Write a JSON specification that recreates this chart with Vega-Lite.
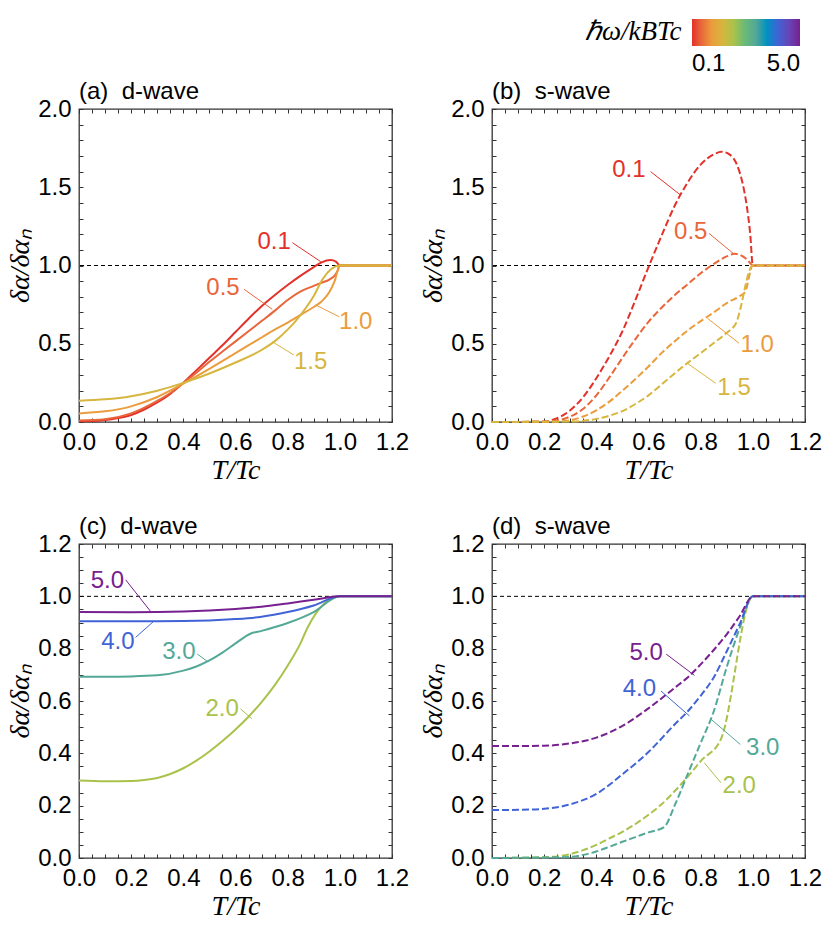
{
  "$schema": "https://vega.github.io/schema/vega-lite/v6.json",
  "padding": {"left": 5, "top": 19, "right": 5, "bottom": 5},
  "datasets": {
    "curves": [
      {"p":"a","w":0.1,"x":0,"y":0.005},{"p":"a","w":0.1,"x":0.05,"y":0.006},{"p":"a","w":0.1,"x":0.1,"y":0.012},{"p":"a","w":0.1,"x":0.15,"y":0.025},{"p":"a","w":0.1,"x":0.2,"y":0.045},{"p":"a","w":0.1,"x":0.25,"y":0.08},{"p":"a","w":0.1,"x":0.3,"y":0.125},{"p":"a","w":0.1,"x":0.35,"y":0.18},{"p":"a","w":0.1,"x":0.4,"y":0.25},{"p":"a","w":0.1,"x":0.45,"y":0.33},{"p":"a","w":0.1,"x":0.5,"y":0.41},{"p":"a","w":0.1,"x":0.55,"y":0.49},{"p":"a","w":0.1,"x":0.6,"y":0.575},{"p":"a","w":0.1,"x":0.65,"y":0.66},{"p":"a","w":0.1,"x":0.7,"y":0.74},{"p":"a","w":0.1,"x":0.75,"y":0.81},{"p":"a","w":0.1,"x":0.8,"y":0.875},{"p":"a","w":0.1,"x":0.85,"y":0.935},{"p":"a","w":0.1,"x":0.9,"y":0.99},{"p":"a","w":0.1,"x":0.93,"y":1.02},{"p":"a","w":0.1,"x":0.965,"y":1.035},{"p":"a","w":0.1,"x":0.985,"y":1.025},{"p":"a","w":0.1,"x":1.0,"y":1.0},{"p":"a","w":0.1,"x":1.2,"y":1.0},
      {"p":"a","w":0.5,"x":0,"y":0.01},{"p":"a","w":0.5,"x":0.1,"y":0.018},{"p":"a","w":0.5,"x":0.2,"y":0.055},{"p":"a","w":0.5,"x":0.3,"y":0.135},{"p":"a","w":0.5,"x":0.35,"y":0.185},{"p":"a","w":0.5,"x":0.4,"y":0.25},{"p":"a","w":0.5,"x":0.45,"y":0.315},{"p":"a","w":0.5,"x":0.5,"y":0.385},{"p":"a","w":0.5,"x":0.55,"y":0.45},{"p":"a","w":0.5,"x":0.6,"y":0.515},{"p":"a","w":0.5,"x":0.65,"y":0.58},{"p":"a","w":0.5,"x":0.7,"y":0.645},{"p":"a","w":0.5,"x":0.75,"y":0.71},{"p":"a","w":0.5,"x":0.8,"y":0.78},{"p":"a","w":0.5,"x":0.85,"y":0.835},{"p":"a","w":0.5,"x":0.9,"y":0.87},{"p":"a","w":0.5,"x":0.93,"y":0.89},{"p":"a","w":0.5,"x":0.96,"y":0.91},{"p":"a","w":0.5,"x":0.98,"y":0.935},{"p":"a","w":0.5,"x":0.99,"y":0.96},{"p":"a","w":0.5,"x":1.0,"y":1.0},{"p":"a","w":0.5,"x":1.2,"y":1.0},
      {"p":"a","w":1.0,"x":0,"y":0.055},{"p":"a","w":1.0,"x":0.1,"y":0.068},{"p":"a","w":1.0,"x":0.2,"y":0.1},{"p":"a","w":1.0,"x":0.3,"y":0.16},{"p":"a","w":1.0,"x":0.4,"y":0.245},{"p":"a","w":1.0,"x":0.5,"y":0.34},{"p":"a","w":1.0,"x":0.6,"y":0.44},{"p":"a","w":1.0,"x":0.7,"y":0.54},{"p":"a","w":1.0,"x":0.75,"y":0.59},{"p":"a","w":1.0,"x":0.8,"y":0.635},{"p":"a","w":1.0,"x":0.85,"y":0.685},{"p":"a","w":1.0,"x":0.9,"y":0.735},{"p":"a","w":1.0,"x":0.93,"y":0.77},{"p":"a","w":1.0,"x":0.96,"y":0.83},{"p":"a","w":1.0,"x":0.98,"y":0.9},{"p":"a","w":1.0,"x":1.0,"y":1.0},{"p":"a","w":1.0,"x":1.2,"y":1.0},
      {"p":"a","w":1.5,"x":0,"y":0.136},{"p":"a","w":1.5,"x":0.1,"y":0.145},{"p":"a","w":1.5,"x":0.2,"y":0.165},{"p":"a","w":1.5,"x":0.3,"y":0.2},{"p":"a","w":1.5,"x":0.4,"y":0.25},{"p":"a","w":1.5,"x":0.5,"y":0.31},{"p":"a","w":1.5,"x":0.6,"y":0.38},{"p":"a","w":1.5,"x":0.7,"y":0.46},{"p":"a","w":1.5,"x":0.75,"y":0.515},{"p":"a","w":1.5,"x":0.8,"y":0.59},{"p":"a","w":1.5,"x":0.85,"y":0.685},{"p":"a","w":1.5,"x":0.9,"y":0.805},{"p":"a","w":1.5,"x":0.935,"y":0.915},{"p":"a","w":1.5,"x":1.0,"y":1.0},{"p":"a","w":1.5,"x":1.2,"y":1.0},
      {"p":"b","w":0.1,"x":0,"y":0},{"p":"b","w":0.1,"x":0.1,"y":0},{"p":"b","w":0.1,"x":0.2,"y":0.003},{"p":"b","w":0.1,"x":0.25,"y":0.025},{"p":"b","w":0.1,"x":0.3,"y":0.075},{"p":"b","w":0.1,"x":0.35,"y":0.16},{"p":"b","w":0.1,"x":0.4,"y":0.28},{"p":"b","w":0.1,"x":0.45,"y":0.42},{"p":"b","w":0.1,"x":0.5,"y":0.58},{"p":"b","w":0.1,"x":0.55,"y":0.78},{"p":"b","w":0.1,"x":0.6,"y":0.99},{"p":"b","w":0.1,"x":0.65,"y":1.19},{"p":"b","w":0.1,"x":0.7,"y":1.38},{"p":"b","w":0.1,"x":0.75,"y":1.53},{"p":"b","w":0.1,"x":0.8,"y":1.645},{"p":"b","w":0.1,"x":0.85,"y":1.71},{"p":"b","w":0.1,"x":0.88,"y":1.727},{"p":"b","w":0.1,"x":0.91,"y":1.71},{"p":"b","w":0.1,"x":0.94,"y":1.64},{"p":"b","w":0.1,"x":0.96,"y":1.53},{"p":"b","w":0.1,"x":0.975,"y":1.4},{"p":"b","w":0.1,"x":0.99,"y":1.2},{"p":"b","w":0.1,"x":1.0,"y":1.0},{"p":"b","w":0.1,"x":1.2,"y":1.0},
      {"p":"b","w":0.5,"x":0,"y":0},{"p":"b","w":0.5,"x":0.2,"y":0.002},{"p":"b","w":0.5,"x":0.25,"y":0.01},{"p":"b","w":0.5,"x":0.3,"y":0.035},{"p":"b","w":0.5,"x":0.35,"y":0.085},{"p":"b","w":0.5,"x":0.4,"y":0.17},{"p":"b","w":0.5,"x":0.45,"y":0.285},{"p":"b","w":0.5,"x":0.5,"y":0.41},{"p":"b","w":0.5,"x":0.55,"y":0.53},{"p":"b","w":0.5,"x":0.6,"y":0.64},{"p":"b","w":0.5,"x":0.65,"y":0.73},{"p":"b","w":0.5,"x":0.7,"y":0.81},{"p":"b","w":0.5,"x":0.75,"y":0.88},{"p":"b","w":0.5,"x":0.8,"y":0.95},{"p":"b","w":0.5,"x":0.85,"y":1.01},{"p":"b","w":0.5,"x":0.9,"y":1.058},{"p":"b","w":0.5,"x":0.93,"y":1.075},{"p":"b","w":0.5,"x":0.96,"y":1.06},{"p":"b","w":0.5,"x":0.98,"y":1.035},{"p":"b","w":0.5,"x":1.0,"y":1.0},{"p":"b","w":0.5,"x":1.2,"y":1.0},
      {"p":"b","w":1.0,"x":0,"y":0},{"p":"b","w":1.0,"x":0.25,"y":0.003},{"p":"b","w":1.0,"x":0.3,"y":0.012},{"p":"b","w":1.0,"x":0.35,"y":0.035},{"p":"b","w":1.0,"x":0.4,"y":0.075},{"p":"b","w":1.0,"x":0.45,"y":0.13},{"p":"b","w":1.0,"x":0.5,"y":0.2},{"p":"b","w":1.0,"x":0.55,"y":0.275},{"p":"b","w":1.0,"x":0.6,"y":0.355},{"p":"b","w":1.0,"x":0.65,"y":0.44},{"p":"b","w":1.0,"x":0.7,"y":0.515},{"p":"b","w":1.0,"x":0.75,"y":0.585},{"p":"b","w":1.0,"x":0.8,"y":0.645},{"p":"b","w":1.0,"x":0.85,"y":0.7},{"p":"b","w":1.0,"x":0.9,"y":0.76},{"p":"b","w":1.0,"x":0.95,"y":0.805},{"p":"b","w":1.0,"x":0.97,"y":0.83},{"p":"b","w":1.0,"x":1.0,"y":1.0},{"p":"b","w":1.0,"x":1.2,"y":1.0},
      {"p":"b","w":1.5,"x":0,"y":0},{"p":"b","w":1.5,"x":0.3,"y":0.003},{"p":"b","w":1.5,"x":0.35,"y":0.008},{"p":"b","w":1.5,"x":0.4,"y":0.02},{"p":"b","w":1.5,"x":0.45,"y":0.04},{"p":"b","w":1.5,"x":0.5,"y":0.07},{"p":"b","w":1.5,"x":0.55,"y":0.115},{"p":"b","w":1.5,"x":0.6,"y":0.17},{"p":"b","w":1.5,"x":0.65,"y":0.24},{"p":"b","w":1.5,"x":0.7,"y":0.31},{"p":"b","w":1.5,"x":0.75,"y":0.378},{"p":"b","w":1.5,"x":0.8,"y":0.44},{"p":"b","w":1.5,"x":0.85,"y":0.505},{"p":"b","w":1.5,"x":0.9,"y":0.57},{"p":"b","w":1.5,"x":0.935,"y":0.63},{"p":"b","w":1.5,"x":1.0,"y":1.0},{"p":"b","w":1.5,"x":1.2,"y":1.0},
      {"p":"c","w":2.0,"x":0,"y":0.296},{"p":"c","w":2.0,"x":0.1,"y":0.293},{"p":"c","w":2.0,"x":0.2,"y":0.294},{"p":"c","w":2.0,"x":0.25,"y":0.298},{"p":"c","w":2.0,"x":0.3,"y":0.306},{"p":"c","w":2.0,"x":0.35,"y":0.321},{"p":"c","w":2.0,"x":0.4,"y":0.343},{"p":"c","w":2.0,"x":0.45,"y":0.372},{"p":"c","w":2.0,"x":0.5,"y":0.407},{"p":"c","w":2.0,"x":0.55,"y":0.447},{"p":"c","w":2.0,"x":0.6,"y":0.491},{"p":"c","w":2.0,"x":0.65,"y":0.54},{"p":"c","w":2.0,"x":0.7,"y":0.596},{"p":"c","w":2.0,"x":0.75,"y":0.66},{"p":"c","w":2.0,"x":0.8,"y":0.735},{"p":"c","w":2.0,"x":0.85,"y":0.822},{"p":"c","w":2.0,"x":0.877,"y":0.882},{"p":"c","w":2.0,"x":1.0,"y":1.0},{"p":"c","w":2.0,"x":1.2,"y":1.0},
      {"p":"c","w":3.0,"x":0,"y":0.693},{"p":"c","w":3.0,"x":0.1,"y":0.693},{"p":"c","w":3.0,"x":0.2,"y":0.694},{"p":"c","w":3.0,"x":0.3,"y":0.698},{"p":"c","w":3.0,"x":0.4,"y":0.716},{"p":"c","w":3.0,"x":0.45,"y":0.732},{"p":"c","w":3.0,"x":0.5,"y":0.755},{"p":"c","w":3.0,"x":0.55,"y":0.785},{"p":"c","w":3.0,"x":0.6,"y":0.82},{"p":"c","w":3.0,"x":0.657,"y":0.857},{"p":"c","w":3.0,"x":0.7,"y":0.868},{"p":"c","w":3.0,"x":0.8,"y":0.898},{"p":"c","w":3.0,"x":0.9,"y":0.94},{"p":"c","w":3.0,"x":1.0,"y":1.0},{"p":"c","w":3.0,"x":1.2,"y":1.0},
      {"p":"c","w":4.0,"x":0,"y":0.905},{"p":"c","w":4.0,"x":0.3,"y":0.905},{"p":"c","w":4.0,"x":0.5,"y":0.908},{"p":"c","w":4.0,"x":0.6,"y":0.913},{"p":"c","w":4.0,"x":0.7,"y":0.922},{"p":"c","w":4.0,"x":0.8,"y":0.94},{"p":"c","w":4.0,"x":0.9,"y":0.965},{"p":"c","w":4.0,"x":1.0,"y":1.0},{"p":"c","w":4.0,"x":1.2,"y":1.0},
      {"p":"c","w":5.0,"x":0,"y":0.94},{"p":"c","w":5.0,"x":0.2,"y":0.939},{"p":"c","w":5.0,"x":0.4,"y":0.942},{"p":"c","w":5.0,"x":0.6,"y":0.952},{"p":"c","w":5.0,"x":0.7,"y":0.96},{"p":"c","w":5.0,"x":0.8,"y":0.973},{"p":"c","w":5.0,"x":0.9,"y":0.987},{"p":"c","w":5.0,"x":1.0,"y":1.0},{"p":"c","w":5.0,"x":1.2,"y":1.0},
      {"p":"d","w":2.0,"x":0,"y":0},{"p":"d","w":2.0,"x":0.2,"y":0.003},{"p":"d","w":2.0,"x":0.3,"y":0.015},{"p":"d","w":2.0,"x":0.35,"y":0.03},{"p":"d","w":2.0,"x":0.4,"y":0.05},{"p":"d","w":2.0,"x":0.45,"y":0.075},{"p":"d","w":2.0,"x":0.5,"y":0.1},{"p":"d","w":2.0,"x":0.55,"y":0.13},{"p":"d","w":2.0,"x":0.6,"y":0.165},{"p":"d","w":2.0,"x":0.65,"y":0.205},{"p":"d","w":2.0,"x":0.7,"y":0.255},{"p":"d","w":2.0,"x":0.75,"y":0.31},{"p":"d","w":2.0,"x":0.8,"y":0.37},{"p":"d","w":2.0,"x":0.878,"y":0.455},{"p":"d","w":2.0,"x":1.0,"y":1.0},{"p":"d","w":2.0,"x":1.2,"y":1.0},
      {"p":"d","w":3.0,"x":0,"y":0},{"p":"d","w":3.0,"x":0.3,"y":0.004},{"p":"d","w":3.0,"x":0.35,"y":0.012},{"p":"d","w":3.0,"x":0.4,"y":0.025},{"p":"d","w":3.0,"x":0.45,"y":0.043},{"p":"d","w":3.0,"x":0.5,"y":0.062},{"p":"d","w":3.0,"x":0.55,"y":0.08},{"p":"d","w":3.0,"x":0.6,"y":0.098},{"p":"d","w":3.0,"x":0.66,"y":0.118},{"p":"d","w":3.0,"x":0.7,"y":0.2},{"p":"d","w":3.0,"x":0.75,"y":0.32},{"p":"d","w":3.0,"x":0.8,"y":0.44},{"p":"d","w":3.0,"x":0.85,"y":0.56},{"p":"d","w":3.0,"x":0.9,"y":0.73},{"p":"d","w":3.0,"x":0.95,"y":0.88},{"p":"d","w":3.0,"x":1.0,"y":1.0},{"p":"d","w":3.0,"x":1.2,"y":1.0},
      {"p":"d","w":4.0,"x":0,"y":0.183},{"p":"d","w":4.0,"x":0.1,"y":0.184},{"p":"d","w":4.0,"x":0.2,"y":0.188},{"p":"d","w":4.0,"x":0.3,"y":0.205},{"p":"d","w":4.0,"x":0.4,"y":0.245},{"p":"d","w":4.0,"x":0.5,"y":0.32},{"p":"d","w":4.0,"x":0.6,"y":0.405},{"p":"d","w":4.0,"x":0.7,"y":0.51},{"p":"d","w":4.0,"x":0.75,"y":0.56},{"p":"d","w":4.0,"x":0.8,"y":0.62},{"p":"d","w":4.0,"x":0.85,"y":0.69},{"p":"d","w":4.0,"x":0.9,"y":0.79},{"p":"d","w":4.0,"x":0.95,"y":0.895},{"p":"d","w":4.0,"x":1.0,"y":1.0},{"p":"d","w":4.0,"x":1.2,"y":1.0},
      {"p":"d","w":5.0,"x":0,"y":0.428},{"p":"d","w":5.0,"x":0.1,"y":0.428},{"p":"d","w":5.0,"x":0.2,"y":0.429},{"p":"d","w":5.0,"x":0.3,"y":0.438},{"p":"d","w":5.0,"x":0.4,"y":0.46},{"p":"d","w":5.0,"x":0.5,"y":0.505},{"p":"d","w":5.0,"x":0.6,"y":0.572},{"p":"d","w":5.0,"x":0.7,"y":0.65},{"p":"d","w":5.0,"x":0.75,"y":0.69},{"p":"d","w":5.0,"x":0.8,"y":0.74},{"p":"d","w":5.0,"x":0.85,"y":0.795},{"p":"d","w":5.0,"x":0.9,"y":0.855},{"p":"d","w":5.0,"x":0.95,"y":0.925},{"p":"d","w":5.0,"x":1.0,"y":1.0},{"p":"d","w":5.0,"x":1.2,"y":1.0}
    ],
    "labels": [
      {"p":"a","w":0.1,"t":"0.1","x":0.748,"y":1.152},{"p":"a","w":0.5,"t":"0.5","x":0.552,"y":0.854},{"p":"a","w":1.0,"t":"1.0","x":1.061,"y":0.641},{"p":"a","w":1.5,"t":"1.5","x":0.888,"y":0.385},
      {"p":"b","w":0.1,"t":"0.1","x":0.525,"y":1.61},{"p":"b","w":0.5,"t":"0.5","x":0.762,"y":1.216},{"p":"b","w":1.0,"t":"1.0","x":1.017,"y":0.492},{"p":"b","w":1.5,"t":"1.5","x":0.928,"y":0.215},
      {"p":"c","w":5.0,"t":"5.0","x":0.109,"y":1.057},{"p":"c","w":4.0,"t":"4.0","x":0.149,"y":0.824},{"p":"c","w":3.0,"t":"3.0","x":0.383,"y":0.786},{"p":"c","w":2.0,"t":"2.0","x":0.549,"y":0.57},
      {"p":"d","w":5.0,"t":"5.0","x":0.591,"y":0.785},{"p":"d","w":4.0,"t":"4.0","x":0.565,"y":0.645},{"p":"d","w":3.0,"t":"3.0","x":1.038,"y":0.421},{"p":"d","w":2.0,"t":"2.0","x":0.948,"y":0.274}
    ],
    "leaders": [
      {"p":"a","w":0.1,"x":0.818,"y":1.146,"x2":0.927,"y2":1.024},{"p":"a","w":0.5,"x":0.633,"y":0.848,"x2":0.741,"y2":0.72},{"p":"a","w":1.0,"x":0.997,"y":0.673,"x2":0.907,"y2":0.748},{"p":"a","w":1.5,"x":0.824,"y":0.428,"x2":0.741,"y2":0.513},
      {"p":"b","w":0.1,"x":0.608,"y":1.6,"x2":0.723,"y2":1.45},{"p":"b","w":0.5,"x":0.832,"y":1.205,"x2":0.928,"y2":1.073},{"p":"b","w":1.0,"x":0.947,"y":0.503,"x2":0.826,"y2":0.663},{"p":"b","w":1.5,"x":0.858,"y":0.247,"x2":0.749,"y2":0.375},
      {"p":"c","w":5.0,"x":0.179,"y":1.063,"x2":0.274,"y2":0.943},{"p":"c","w":4.0,"x":0.217,"y":0.843,"x2":0.287,"y2":0.905},{"p":"c","w":3.0,"x":0.453,"y":0.78,"x2":0.491,"y2":0.752},{"p":"c","w":2.0,"x":0.619,"y":0.57,"x2":0.663,"y2":0.532},
      {"p":"d","w":5.0,"x":0.668,"y":0.779,"x2":0.776,"y2":0.698},{"p":"d","w":4.0,"x":0.648,"y":0.638,"x2":0.757,"y2":0.543},{"p":"d","w":3.0,"x":0.952,"y":0.434,"x2":0.84,"y2":0.53},{"p":"d","w":2.0,"x":0.878,"y":0.287,"x2":0.814,"y2":0.364}
    ],
    "one": [{"y": 1}]
  },
  "columns": 2,
  "spacing": {"row": 122, "column": 100},
  "bounds": "flush",
  "concat": [
    {
      "title": "(a)\u00a0\u00a0d-wave",
      "width": 313, "height": 313,
      "layer": [
        {"data": {"name": "one"}, "mark": {"type": "rule", "color": "black", "strokeWidth": 1, "strokeDash": [4, 3]},
         "encoding": {"y": {"field": "y", "type": "quantitative", "scale": {"domain": [0, 2], "nice": false}, "axis": null}}},
        {"data": {"name": "curves"}, "transform": [{"filter": "datum.p === 'a'"}],
         "mark": {"type": "line", "strokeWidth": 2, "interpolate": "monotone"},
         "encoding": {
           "x": {"field": "x", "type": "quantitative", "scale": {"domain": [0, 1.2], "nice": false},
                 "axis": {"orient": "bottom", "values": [0,0.05,0.1,0.15,0.2,0.25,0.3,0.35,0.4,0.45,0.5,0.55,0.6,0.65,0.7,0.75,0.8,0.85,0.9,0.95,1,1.05,1.1,1.15,1.2], "labelExpr": "abs(datum.value*5-round(datum.value*5)) < 0.001 ? format(datum.value, '.1f') : ''", "title": "T/Tc"}},
           "y": {"field": "y", "type": "quantitative", "scale": {"domain": [0, 2], "nice": false},
                 "axis": {"orient": "left", "values": [0,0.1,0.2,0.3,0.4,0.5,0.6,0.7,0.8,0.9,1,1.1,1.2,1.3,1.4,1.5,1.6,1.7,1.8,1.9,2], "labelExpr": "abs(datum.value*2-round(datum.value*2)) < 0.001 ? format(datum.value, '.1f') : ''", "title": "δα/δαₙ"}},
           "stroke": {"field": "w", "type": "quantitative", "legend": null,
                      "scale": {"domain": [0.1,0.5,1,1.5,2,3,4,5,6], "range": ["#e2312a","#e9653a","#eb9c3c","#d6b63e","#a9c24b","#53a897","#4063d6","#77208f","#77208f"]}},
           "detail": {"field": "w", "type": "nominal"}
         }},
        {"data": {"name": "leaders"}, "transform": [{"filter": "datum.p === 'a'"}],
         "mark": {"type": "rule", "strokeWidth": 1},
         "encoding": {
           "x": {"field": "x", "type": "quantitative", "scale": {"domain": [0, 1.2], "nice": false},
                 "axis": {"orient": "top", "values": [0,0.05,0.1,0.15,0.2,0.25,0.3,0.35,0.4,0.45,0.5,0.55,0.6,0.65,0.7,0.75,0.8,0.85,0.9,0.95,1,1.05,1.1,1.15,1.2], "labels": false, "title": null}},
           "y": {"field": "y", "type": "quantitative", "scale": {"domain": [0, 2], "nice": false},
                 "axis": {"orient": "right", "values": [0,0.1,0.2,0.3,0.4,0.5,0.6,0.7,0.8,0.9,1,1.1,1.2,1.3,1.4,1.5,1.6,1.7,1.8,1.9,2], "labels": false, "title": null}},
           "x2": {"field": "x2"}, "y2": {"field": "y2"},
           "stroke": {"field": "w", "type": "quantitative", "legend": null, "scale": {"domain": [0.1,0.5,1,1.5,2,3,4,5,6], "range": ["#e2312a","#e9653a","#eb9c3c","#d6b63e","#a9c24b","#53a897","#4063d6","#77208f","#77208f"]}}
         }},
        {"data": {"name": "labels"}, "transform": [{"filter": "datum.p === 'a'"}],
         "mark": {"type": "text", "fontSize": 24, "font": "Liberation Sans", "baseline": "middle"},
         "encoding": {
           "x": {"field": "x", "type": "quantitative", "scale": {"domain": [0, 1.2], "nice": false}, "axis": null},
           "y": {"field": "y", "type": "quantitative", "scale": {"domain": [0, 2], "nice": false}, "axis": null},
           "text": {"field": "t"},
           "color": {"field": "w", "type": "quantitative",
                     "scale": {"domain": [0.1,0.5,1,1.5,2,3,4,5], "range": ["#e2312a","#e9653a","#eb9c3c","#d6b63e","#a9c24b","#53a897","#4063d6","#77208f"]},
                     "legend": {"type": "gradient", "orient": "none", "legendX": 506, "legendY": -90, "direction": "horizontal", "values": [0.1, 5], "format": ".1f",
                                "title": "ℏω/kBTc", "titleOrient": "left", "titleAnchor": "start", "titleBaseline": "top", "titlePadding": 10,
                                "titleFont": "Liberation Serif", "titleFontStyle": "italic", "titleFontWeight": "normal", "titleFontSize": 27, "titleColor": "black",
                                "gradientLength": 108, "gradientThickness": 27, "gradientStrokeWidth": 0,
                                "labelFont": "Liberation Sans", "labelFontSize": 24, "labelColor": "black", "labelOffset": 6, "labelAlign": "center", "padding": 0}}
         }}
      ],
      "resolve": {"axis": {"x": "independent", "y": "independent"}}
    },
    {
      "title": "(b)\u00a0\u00a0s-wave",
      "width": 313, "height": 313,
      "layer": [
        {"data": {"name": "one"}, "mark": {"type": "rule", "color": "black", "strokeWidth": 1, "strokeDash": [4, 3]},
         "encoding": {"y": {"field": "y", "type": "quantitative", "scale": {"domain": [0, 2], "nice": false}, "axis": null}}},
        {"data": {"name": "curves"}, "transform": [{"filter": "datum.p === 'b'"}],
         "mark": {"type": "line", "strokeWidth": 2, "interpolate": "monotone", "strokeDash": [7, 3]},
         "encoding": {
           "x": {"field": "x", "type": "quantitative", "scale": {"domain": [0, 1.2], "nice": false},
                 "axis": {"orient": "bottom", "values": [0,0.05,0.1,0.15,0.2,0.25,0.3,0.35,0.4,0.45,0.5,0.55,0.6,0.65,0.7,0.75,0.8,0.85,0.9,0.95,1,1.05,1.1,1.15,1.2], "labelExpr": "abs(datum.value*5-round(datum.value*5)) < 0.001 ? format(datum.value, '.1f') : ''", "title": "T/Tc"}},
           "y": {"field": "y", "type": "quantitative", "scale": {"domain": [0, 2], "nice": false},
                 "axis": {"orient": "left", "values": [0,0.1,0.2,0.3,0.4,0.5,0.6,0.7,0.8,0.9,1,1.1,1.2,1.3,1.4,1.5,1.6,1.7,1.8,1.9,2], "labelExpr": "abs(datum.value*2-round(datum.value*2)) < 0.001 ? format(datum.value, '.1f') : ''", "title": "δα/δαₙ"}},
           "stroke": {"field": "w", "type": "quantitative", "legend": null, "scale": {"domain": [0.1,0.5,1,1.5,2,3,4,5,6], "range": ["#e2312a","#e9653a","#eb9c3c","#d6b63e","#a9c24b","#53a897","#4063d6","#77208f","#77208f"]}},
           "detail": {"field": "w", "type": "nominal"}
         }},
        {"data": {"name": "leaders"}, "transform": [{"filter": "datum.p === 'b'"}],
         "mark": {"type": "rule", "strokeWidth": 1},
         "encoding": {
           "x": {"field": "x", "type": "quantitative", "scale": {"domain": [0, 1.2], "nice": false},
                 "axis": {"orient": "top", "values": [0,0.05,0.1,0.15,0.2,0.25,0.3,0.35,0.4,0.45,0.5,0.55,0.6,0.65,0.7,0.75,0.8,0.85,0.9,0.95,1,1.05,1.1,1.15,1.2], "labels": false, "title": null}},
           "y": {"field": "y", "type": "quantitative", "scale": {"domain": [0, 2], "nice": false},
                 "axis": {"orient": "right", "values": [0,0.1,0.2,0.3,0.4,0.5,0.6,0.7,0.8,0.9,1,1.1,1.2,1.3,1.4,1.5,1.6,1.7,1.8,1.9,2], "labels": false, "title": null}},
           "x2": {"field": "x2"}, "y2": {"field": "y2"},
           "stroke": {"field": "w", "type": "quantitative", "legend": null, "scale": {"domain": [0.1,0.5,1,1.5,2,3,4,5,6], "range": ["#e2312a","#e9653a","#eb9c3c","#d6b63e","#a9c24b","#53a897","#4063d6","#77208f","#77208f"]}}
         }},
        {"data": {"name": "labels"}, "transform": [{"filter": "datum.p === 'b'"}],
         "mark": {"type": "text", "fontSize": 24, "font": "Liberation Sans", "baseline": "middle"},
         "encoding": {
           "x": {"field": "x", "type": "quantitative", "scale": {"domain": [0, 1.2], "nice": false}, "axis": null},
           "y": {"field": "y", "type": "quantitative", "scale": {"domain": [0, 2], "nice": false}, "axis": null},
           "text": {"field": "t"},
           "color": {"field": "w", "type": "quantitative", "scale": {"domain": [0.1,0.5,1,1.5,2,3,4,5], "range": ["#e2312a","#e9653a","#eb9c3c","#d6b63e","#a9c24b","#53a897","#4063d6","#77208f"]}}
         }}
      ],
      "resolve": {"axis": {"x": "independent", "y": "independent"}}
    },
    {
      "title": "(c)\u00a0\u00a0d-wave",
      "width": 313, "height": 314,
      "layer": [
        {"data": {"name": "one"}, "mark": {"type": "rule", "color": "black", "strokeWidth": 1, "strokeDash": [4, 3]},
         "encoding": {"y": {"field": "y", "type": "quantitative", "scale": {"domain": [0, 1.2], "nice": false}, "axis": null}}},
        {"data": {"name": "curves"}, "transform": [{"filter": "datum.p === 'c'"}],
         "mark": {"type": "line", "strokeWidth": 2, "interpolate": "monotone"},
         "encoding": {
           "x": {"field": "x", "type": "quantitative", "scale": {"domain": [0, 1.2], "nice": false},
                 "axis": {"orient": "bottom", "values": [0,0.05,0.1,0.15,0.2,0.25,0.3,0.35,0.4,0.45,0.5,0.55,0.6,0.65,0.7,0.75,0.8,0.85,0.9,0.95,1,1.05,1.1,1.15,1.2], "labelExpr": "abs(datum.value*5-round(datum.value*5)) < 0.001 ? format(datum.value, '.1f') : ''", "title": "T/Tc"}},
           "y": {"field": "y", "type": "quantitative", "scale": {"domain": [0, 1.2], "nice": false},
                 "axis": {"orient": "left", "values": [0,0.05,0.1,0.15,0.2,0.25,0.3,0.35,0.4,0.45,0.5,0.55,0.6,0.65,0.7,0.75,0.8,0.85,0.9,0.95,1,1.05,1.1,1.15,1.2], "labelExpr": "abs(datum.value*5-round(datum.value*5)) < 0.001 ? format(datum.value, '.1f') : ''", "title": "δα/δαₙ"}},
           "stroke": {"field": "w", "type": "quantitative", "legend": null, "scale": {"domain": [0.1,0.5,1,1.5,2,3,4,5,6], "range": ["#e2312a","#e9653a","#eb9c3c","#d6b63e","#a9c24b","#53a897","#4063d6","#77208f","#77208f"]}},
           "detail": {"field": "w", "type": "nominal"}
         }},
        {"data": {"name": "leaders"}, "transform": [{"filter": "datum.p === 'c'"}],
         "mark": {"type": "rule", "strokeWidth": 1},
         "encoding": {
           "x": {"field": "x", "type": "quantitative", "scale": {"domain": [0, 1.2], "nice": false},
                 "axis": {"orient": "top", "values": [0,0.05,0.1,0.15,0.2,0.25,0.3,0.35,0.4,0.45,0.5,0.55,0.6,0.65,0.7,0.75,0.8,0.85,0.9,0.95,1,1.05,1.1,1.15,1.2], "labels": false, "title": null}},
           "y": {"field": "y", "type": "quantitative", "scale": {"domain": [0, 1.2], "nice": false},
                 "axis": {"orient": "right", "values": [0,0.05,0.1,0.15,0.2,0.25,0.3,0.35,0.4,0.45,0.5,0.55,0.6,0.65,0.7,0.75,0.8,0.85,0.9,0.95,1,1.05,1.1,1.15,1.2], "labels": false, "title": null}},
           "x2": {"field": "x2"}, "y2": {"field": "y2"},
           "stroke": {"field": "w", "type": "quantitative", "legend": null, "scale": {"domain": [0.1,0.5,1,1.5,2,3,4,5,6], "range": ["#e2312a","#e9653a","#eb9c3c","#d6b63e","#a9c24b","#53a897","#4063d6","#77208f","#77208f"]}}
         }},
        {"data": {"name": "labels"}, "transform": [{"filter": "datum.p === 'c'"}],
         "mark": {"type": "text", "fontSize": 24, "font": "Liberation Sans", "baseline": "middle"},
         "encoding": {
           "x": {"field": "x", "type": "quantitative", "scale": {"domain": [0, 1.2], "nice": false}, "axis": null},
           "y": {"field": "y", "type": "quantitative", "scale": {"domain": [0, 1.2], "nice": false}, "axis": null},
           "text": {"field": "t"},
           "color": {"field": "w", "type": "quantitative", "scale": {"domain": [0.1,0.5,1,1.5,2,3,4,5], "range": ["#e2312a","#e9653a","#eb9c3c","#d6b63e","#a9c24b","#53a897","#4063d6","#77208f"]}}
         }}
      ],
      "resolve": {"axis": {"x": "independent", "y": "independent"}}
    },
    {
      "title": "(d)\u00a0\u00a0s-wave",
      "width": 313, "height": 314,
      "layer": [
        {"data": {"name": "one"}, "mark": {"type": "rule", "color": "black", "strokeWidth": 1, "strokeDash": [4, 3]},
         "encoding": {"y": {"field": "y", "type": "quantitative", "scale": {"domain": [0, 1.2], "nice": false}, "axis": null}}},
        {"data": {"name": "curves"}, "transform": [{"filter": "datum.p === 'd'"}],
         "mark": {"type": "line", "strokeWidth": 2, "interpolate": "monotone", "strokeDash": [7, 3]},
         "encoding": {
           "x": {"field": "x", "type": "quantitative", "scale": {"domain": [0, 1.2], "nice": false},
                 "axis": {"orient": "bottom", "values": [0,0.05,0.1,0.15,0.2,0.25,0.3,0.35,0.4,0.45,0.5,0.55,0.6,0.65,0.7,0.75,0.8,0.85,0.9,0.95,1,1.05,1.1,1.15,1.2], "labelExpr": "abs(datum.value*5-round(datum.value*5)) < 0.001 ? format(datum.value, '.1f') : ''", "title": "T/Tc"}},
           "y": {"field": "y", "type": "quantitative", "scale": {"domain": [0, 1.2], "nice": false},
                 "axis": {"orient": "left", "values": [0,0.05,0.1,0.15,0.2,0.25,0.3,0.35,0.4,0.45,0.5,0.55,0.6,0.65,0.7,0.75,0.8,0.85,0.9,0.95,1,1.05,1.1,1.15,1.2], "labelExpr": "abs(datum.value*5-round(datum.value*5)) < 0.001 ? format(datum.value, '.1f') : ''", "title": "δα/δαₙ"}},
           "stroke": {"field": "w", "type": "quantitative", "legend": null, "scale": {"domain": [0.1,0.5,1,1.5,2,3,4,5,6], "range": ["#e2312a","#e9653a","#eb9c3c","#d6b63e","#a9c24b","#53a897","#4063d6","#77208f","#77208f"]}},
           "detail": {"field": "w", "type": "nominal"}
         }},
        {"data": {"name": "leaders"}, "transform": [{"filter": "datum.p === 'd'"}],
         "mark": {"type": "rule", "strokeWidth": 1},
         "encoding": {
           "x": {"field": "x", "type": "quantitative", "scale": {"domain": [0, 1.2], "nice": false},
                 "axis": {"orient": "top", "values": [0,0.05,0.1,0.15,0.2,0.25,0.3,0.35,0.4,0.45,0.5,0.55,0.6,0.65,0.7,0.75,0.8,0.85,0.9,0.95,1,1.05,1.1,1.15,1.2], "labels": false, "title": null}},
           "y": {"field": "y", "type": "quantitative", "scale": {"domain": [0, 1.2], "nice": false},
                 "axis": {"orient": "right", "values": [0,0.05,0.1,0.15,0.2,0.25,0.3,0.35,0.4,0.45,0.5,0.55,0.6,0.65,0.7,0.75,0.8,0.85,0.9,0.95,1,1.05,1.1,1.15,1.2], "labels": false, "title": null}},
           "x2": {"field": "x2"}, "y2": {"field": "y2"},
           "stroke": {"field": "w", "type": "quantitative", "legend": null, "scale": {"domain": [0.1,0.5,1,1.5,2,3,4,5,6], "range": ["#e2312a","#e9653a","#eb9c3c","#d6b63e","#a9c24b","#53a897","#4063d6","#77208f","#77208f"]}}
         }},
        {"data": {"name": "labels"}, "transform": [{"filter": "datum.p === 'd'"}],
         "mark": {"type": "text", "fontSize": 24, "font": "Liberation Sans", "baseline": "middle"},
         "encoding": {
           "x": {"field": "x", "type": "quantitative", "scale": {"domain": [0, 1.2], "nice": false}, "axis": null},
           "y": {"field": "y", "type": "quantitative", "scale": {"domain": [0, 1.2], "nice": false}, "axis": null},
           "text": {"field": "t"},
           "color": {"field": "w", "type": "quantitative", "scale": {"domain": [0.1,0.5,1,1.5,2,3,4,5], "range": ["#e2312a","#e9653a","#eb9c3c","#d6b63e","#a9c24b","#53a897","#4063d6","#77208f"]}}
         }}
      ],
      "resolve": {"axis": {"x": "independent", "y": "independent"}}
    }
  ],
  "config": {
    "view": {"stroke": "#333333", "strokeWidth": 1.3},
    "font": "Liberation Sans",
    "axis": {
      "grid": false, "domain": false, "ticks": true, "tickSize": -4, "tickColor": "#333333", "tickWidth": 1,
      "labelFont": "Liberation Sans", "labelFontSize": 24, "labelColor": "black", "labelPadding": 12,
      "labelOverlap": false, "labelFlush": false,
      "titleFont": "Liberation Serif", "titleFontStyle": "italic", "titleFontWeight": "normal", "titleFontSize": 28, "titleColor": "black"
    },
    "axisX": {"titlePadding": 2},
    "axisY": {"titlePadding": 3},
    "title": {"anchor": "start", "frame": "group", "font": "Liberation Sans", "fontSize": 24, "fontWeight": "normal", "color": "black", "offset": -7, "baseline": "alphabetic"}
  }
}
